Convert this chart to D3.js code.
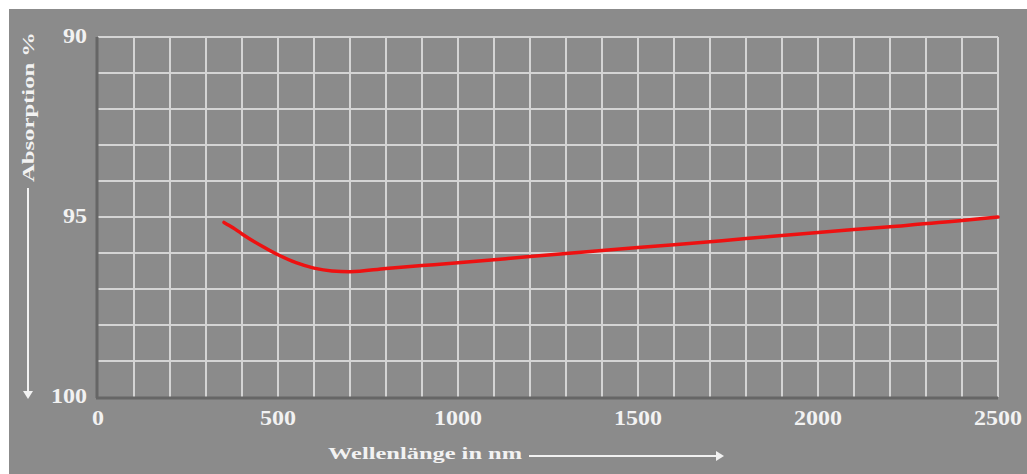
<!DOCTYPE html>
<html><head><meta charset="utf-8">
<script src="https://cdn.jsdelivr.net/npm/d3@7"></script>
<style>
html,body{margin:0;padding:0;background:#fff;}
svg{display:block;}
text{font-family:"Liberation Serif","DejaVu Serif",serif;font-weight:bold;fill:#f2f2f2;}
</style></head>
<body>
<svg id="c" width="1027" height="474"></svg>
<script>
const wavelengths = [350, 375, 400, 450, 500, 550, 600, 650, 700, 800, 900, 1000, 1200, 1400, 1600, 1800, 2000, 2200, 2400, 2500];
const absorption  = [95.15, 95.3, 95.47, 95.78, 96.05, 96.27, 96.42, 96.5, 96.52, 96.43, 96.35, 96.27, 96.1, 95.93, 95.77, 95.6, 95.43, 95.27, 95.1, 95.0];
const xTicks = [0, 500, 1000, 1500, 2000, 2500];
const yTicks = [90, 95, 100];
const xLabel = "Wellenlänge in nm";
const yLabel = "Absorption %";

const svg = d3.select("#c");
svg.append("rect").attr("x",9).attr("y",9).attr("width",1018).attr("height",465).attr("fill","#8b8b8b");

const x = d3.scaleLinear().domain([0,2500]).range([98,998]);
const y = d3.scaleLinear().domain([90,100]).range([37,397]);

const grid = svg.append("g").attr("stroke","#d4d4d4").attr("stroke-width",2);
grid.selectAll("line.v").data(d3.range(100,2501,100)).join("line")
  .attr("x1",d=>x(d)).attr("x2",d=>x(d)).attr("y1",y(90)).attr("y2",y(100));
grid.selectAll("line.h").data(d3.range(90,100,1)).join("line")
  .attr("x1",x(0)).attr("x2",x(2500)).attr("y1",d=>y(d)).attr("y2",d=>y(d));

// axes lines
svg.append("line").attr("x1",x(0)-1).attr("x2",x(0)-1).attr("y1",y(90)).attr("y2",y(100)+1)
  .attr("stroke","#666").attr("stroke-width",3);
svg.append("line").attr("x1",x(0)-2).attr("x2",x(2500)).attr("y1",y(100)+1).attr("y2",y(100)+1)
  .attr("stroke","#666").attr("stroke-width",3);

// y tick labels
svg.selectAll("text.yt").data(yTicks).join("text")
  .attr("x",87).attr("y",d=>y(d)+6).attr("text-anchor","end")
  .attr("font-size",20)
  .attr("textLength",d=>String(d).length*12).attr("lengthAdjust","spacingAndGlyphs")
  .text(d=>d);
// x tick labels
svg.selectAll("text.xt").data(xTicks).join("text")
  .attr("x",d=>x(d)).attr("y",425).attr("text-anchor","middle")
  .attr("font-size",20)
  .attr("textLength",d=>String(d).length*12).attr("lengthAdjust","spacingAndGlyphs")
  .text(d=>d);

// line
const line = d3.line().x((d,i)=>x(wavelengths[i])).y(d=>y(d)).curve(d3.curveMonotoneX);
svg.append("path").datum(absorption).attr("d",line).attr("fill","none")
  .attr("stroke","#ee1111").attr("stroke-width",3.5).attr("stroke-linecap","round");

// x label + arrow
svg.append("text").attr("x",328).attr("y",459).attr("font-size",17)
  .attr("textLength",194).attr("lengthAdjust","spacingAndGlyphs").text(xLabel);
svg.append("line").attr("x1",529).attr("x2",716).attr("y1",456).attr("y2",456)
  .attr("stroke","#f2f2f2").attr("stroke-width",2);
svg.append("path").attr("d","M716,451 L724,456 L716,461 Z").attr("fill","#f2f2f2");

// y label + arrow
svg.append("text").attr("transform","translate(34,182) rotate(-90)").attr("font-size",17)
  .attr("textLength",150).attr("lengthAdjust","spacingAndGlyphs").text(yLabel);
svg.append("line").attr("x1",28).attr("x2",28).attr("y1",188).attr("y2",391)
  .attr("stroke","#f2f2f2").attr("stroke-width",2);
svg.append("path").attr("d","M23,391 L28,399 L33,391 Z").attr("fill","#f2f2f2");
</script>
</body></html>
